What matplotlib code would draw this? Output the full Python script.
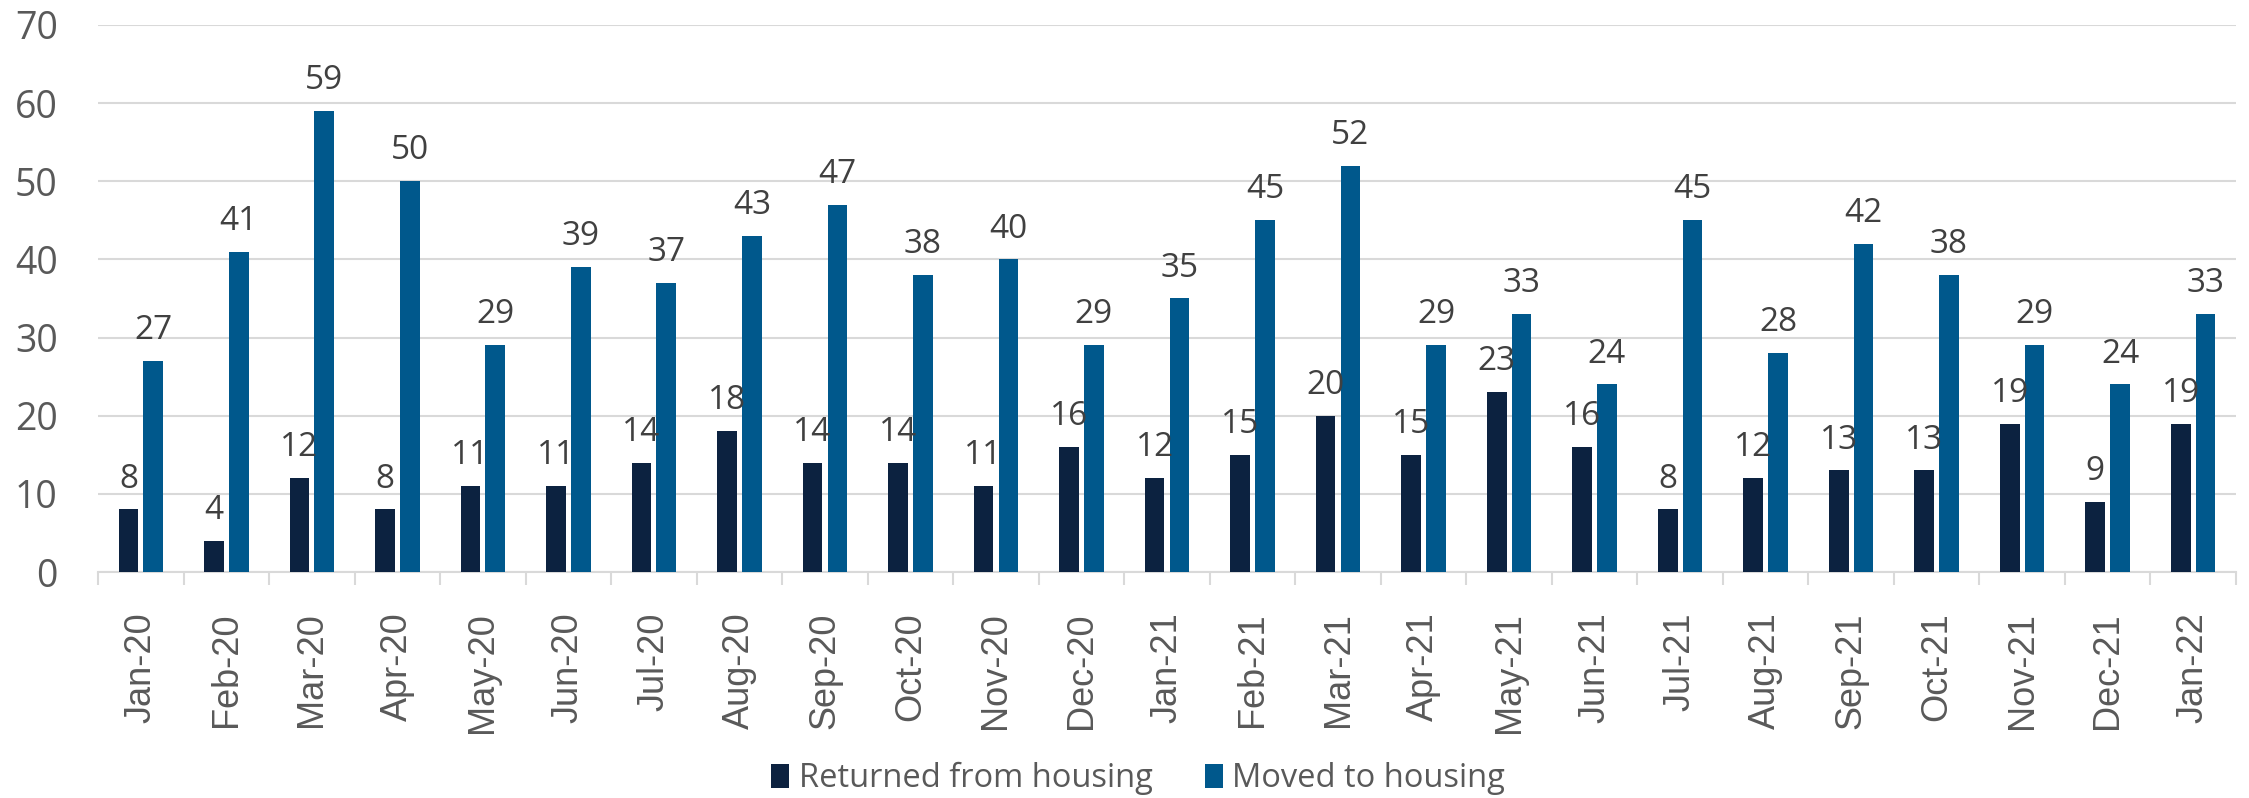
import numpy as np
import matplotlib.pyplot as plt

months = ['Jan-20', 'Feb-20', 'Mar-20', 'Apr-20', 'May-20', 'Jun-20', 'Jul-20', 'Aug-20',
          'Sep-20', 'Oct-20', 'Nov-20', 'Dec-20', 'Jan-21', 'Feb-21', 'Mar-21', 'Apr-21',
          'May-21', 'Jun-21', 'Jul-21', 'Aug-21', 'Sep-21', 'Oct-21', 'Nov-21', 'Dec-21', 'Jan-22']
returned = [8, 4, 12, 8, 11, 11, 14, 18, 14, 14, 11, 16, 12, 15, 20, 15, 23, 16, 8, 12, 13, 13, 19, 9, 19]
moved = [27, 41, 59, 50, 29, 39, 37, 43, 47, 38, 40, 29, 35, 45, 52, 29, 33, 24, 45, 28, 42, 38, 29, 24, 33]

DARK = '#0C2240'
BLUE = '#00588C'
GRID = '#D9D9D9'

fig = plt.figure(figsize=(22.49, 7.98), dpi=100)
ax = fig.add_axes([0.0436, 0.2832, 0.9506, 0.6855])

x = np.arange(len(months))
w = 0.23
b1 = ax.bar(x - 0.145, returned, w, color=DARK, label='Returned from housing', zorder=3)
b2 = ax.bar(x + 0.145, moved, w, color=BLUE, label='Moved to housing', zorder=3)

for bars in (b1, b2):
    for bar in bars:
        h = bar.get_height()
        ax.annotate(f'{h:.0f}', (bar.get_x() + bar.get_width() / 2, h),
                    xytext=(0, 10), textcoords='offset points',
                    ha='center', va='bottom', fontsize=24, color='#404040',
                    family=['Open Sans', 'DejaVu Sans'])

ax.set_xlim(-0.5, len(months) - 0.5)
ax.set_ylim(0, 70)
ax.set_yticks(range(0, 71, 10))
ax.yaxis.grid(True, color=GRID, lw=1.5, zorder=0)
ax.set_axisbelow(True)

for s in ['top', 'right', 'left']:
    ax.spines[s].set_visible(False)
ax.spines['bottom'].set_color(GRID)
ax.spines['bottom'].set_linewidth(1.5)

# category tick marks sit on boundaries, labels centered
ax.set_xticks(np.arange(-0.5, len(months), 1.0))
ax.set_xticklabels([])
ax.set_xticks(x, minor=True)
ax.set_xticklabels(months, minor=True, rotation=90, fontsize=26, color='#595959',
                   family=['Liberation Sans', 'DejaVu Sans'])
ax.tick_params(axis='x', which='major', length=9.5, width=1.5, color=GRID)
ax.tick_params(axis='x', which='minor', length=0, pad=29)
ax.tick_params(axis='y', length=0, pad=29, labelsize=27, labelcolor='#595959')
for t in ax.get_yticklabels():
    t.set_family(['Open Sans', 'DejaVu Sans'])

leg = fig.legend(loc='center', bbox_to_anchor=(0.506, 0.024), ncol=2, frameon=False,
                 handlelength=0.55, handleheight=0.75, handletextpad=0.3,
                 columnspacing=1.6, prop={'family': ['Open Sans', 'DejaVu Sans'], 'size': 23.5})
for t in leg.get_texts():
    t.set_color('#595959')

fig.savefig('out.png', dpi=100)
